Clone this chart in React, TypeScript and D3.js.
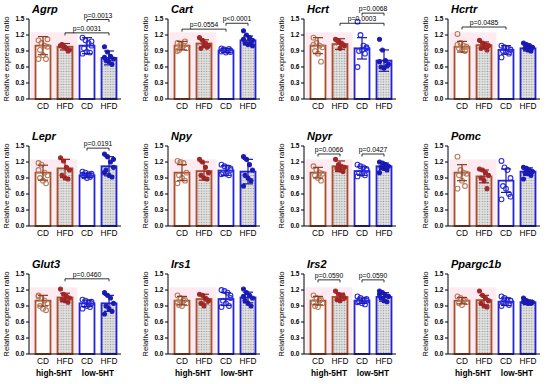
import React from "react";
import * as d3 from "d3";

const genes = ["Agrp", "Cart", "Hcrt", "Hcrtr", "Lepr", "Npy", "Npyr", "Pomc", "Glut3", "Irs1", "Irs2", "Ppargc1b"];
const groups = ["CD", "HFD", "CD", "HFD"];
const strains = ["high-5HT", "low-5HT"];
const yTicks = [0, 0.3, 0.6, 0.9, 1.2, 1.5];

const means = [
  [1.0, 0.98, 1.0, 0.77],
  [1.0, 1.04, 0.91, 1.1],
  [1.0, 1.03, 0.95, 0.72],
  [0.98, 1.01, 0.92, 0.95],
  [1.0, 1.08, 0.95, 1.12],
  [1.0, 1.03, 1.04, 1.02],
  [1.0, 1.12, 1.03, 1.12],
  [1.0, 0.93, 0.85, 1.02],
  [1.0, 1.06, 0.95, 0.95],
  [1.0, 1.03, 1.03, 1.06],
  [1.0, 1.07, 1.0, 1.07],
  [1.0, 1.01, 0.98, 0.97],
];

const sds = [
  [0.17, 0.06, 0.15, 0.13],
  [0.08, 0.07, 0.04, 0.08],
  [0.15, 0.1, 0.2, 0.2],
  [0.1, 0.06, 0.08, 0.05],
  [0.14, 0.17, 0.04, 0.18],
  [0.15, 0.17, 0.09, 0.23],
  [0.1, 0.1, 0.08, 0.06],
  [0.15, 0.12, 0.22, 0.07],
  [0.1, 0.08, 0.06, 0.15],
  [0.08, 0.09, 0.12, 0.1],
  [0.08, 0.07, 0.05, 0.08],
  [0.06, 0.09, 0.07, 0.04],
];

const points = [
  [[1.1, 1.05, 1.0, 0.98, 0.92, 0.82, 0.75, 0.75, 1.12], [1.0, 0.98, 0.95, 0.92, 1.02, 0.97, 0.9], [1.15, 1.1, 1.05, 1.0, 0.95, 0.88, 0.87, 0.85, 1.08], [0.98, 0.88, 0.8, 0.75, 0.72, 0.7, 0.65, 0.78]],
  [[1.05, 1.02, 1.0, 0.95, 0.92, 0.97, 1.08, 0.9], [1.15, 1.1, 1.05, 1.0, 0.95, 1.02, 0.97], [0.95, 0.93, 0.9, 0.88, 0.92, 0.87, 0.94, 0.89, 0.91], [1.28, 1.2, 1.15, 1.1, 1.05, 1.02, 1.08, 1.12, 1.0]],
  [[1.15, 1.05, 1.0, 0.97, 0.9, 0.85, 0.7, 1.02], [1.12, 1.08, 1.05, 1.0, 1.1, 0.95, 1.02], [1.45, 1.2, 1.0, 0.95, 0.9, 0.92, 0.85, 0.6, 0.97], [1.12, 0.92, 0.72, 0.65, 0.6, 0.58, 0.62, 0.7]],
  [[1.22, 1.05, 1.0, 0.98, 0.95, 0.92, 0.9, 1.02], [1.1, 1.05, 1.02, 1.0, 0.95, 0.97, 0.92], [1.0, 0.97, 0.95, 0.92, 0.9, 0.88, 0.85, 0.78, 0.93], [1.05, 1.02, 1.0, 0.97, 0.95, 0.92, 0.9]],
  [[1.18, 1.15, 1.0, 0.95, 0.9, 0.85, 0.8, 1.05], [1.28, 1.22, 1.1, 1.05, 0.95, 0.9, 0.88], [1.02, 1.0, 0.97, 0.95, 0.93, 0.9, 0.92, 0.96, 0.98], [1.35, 1.3, 1.2, 1.1, 1.05, 0.95, 0.92, 1.0, 1.25]],
  [[1.22, 1.2, 1.18, 1.0, 0.95, 0.9, 0.85, 0.8], [1.25, 1.2, 1.1, 1.0, 0.95, 0.9, 0.88], [1.15, 1.12, 1.1, 1.05, 1.0, 0.98, 0.95, 0.97, 1.08], [1.3, 1.25, 1.15, 1.05, 0.95, 0.9, 0.85, 0.75]],
  [[1.12, 1.05, 1.0, 0.98, 0.95, 0.9, 0.85], [1.25, 1.15, 1.12, 1.1, 1.08, 1.05, 1.02], [1.15, 1.12, 1.1, 1.05, 1.0, 0.98, 0.95, 0.93, 1.07], [1.2, 1.18, 1.15, 1.12, 1.1, 1.08, 1.05, 1.0]],
  [[1.3, 1.05, 1.0, 0.98, 0.95, 0.85, 0.75, 0.7], [1.07, 1.05, 1.0, 0.95, 0.9, 0.85, 0.7], [1.22, 1.1, 1.05, 0.9, 0.75, 0.7, 0.6, 0.5, 0.55], [1.1, 1.08, 1.05, 1.02, 1.0, 0.98, 0.95, 0.88]],
  [[1.1, 1.05, 1.0, 0.95, 0.9, 0.85, 0.82, 1.08], [1.22, 1.12, 1.08, 1.05, 1.02, 1.0, 0.97], [1.02, 1.0, 0.97, 0.95, 0.92, 0.9, 0.88, 0.85, 0.98], [1.15, 1.1, 1.05, 0.95, 0.9, 0.85, 0.8, 0.75]],
  [[1.1, 1.05, 1.0, 0.95, 0.92, 0.9, 1.02, 0.97], [1.12, 1.1, 1.05, 1.0, 0.95, 0.9, 1.02], [1.2, 1.18, 1.15, 1.05, 1.0, 0.95, 0.9, 0.88, 1.1], [1.22, 1.15, 1.1, 1.05, 1.0, 0.95, 0.9, 1.08]],
  [[1.1, 1.05, 1.0, 0.95, 0.9, 0.88, 1.02, 0.97], [1.18, 1.12, 1.08, 1.05, 1.02, 1.0, 1.1], [1.08, 1.05, 1.02, 1.0, 0.98, 0.95, 0.93, 0.97, 1.03], [1.18, 1.15, 1.1, 1.08, 1.05, 1.0, 0.98, 1.12]],
  [[1.08, 1.05, 1.0, 0.97, 0.95, 0.92, 1.02], [1.18, 1.1, 1.05, 1.0, 0.95, 0.9, 0.88], [1.08, 1.05, 1.02, 1.0, 0.97, 0.95, 0.92, 0.9, 1.0], [1.05, 1.0, 0.98, 0.97, 0.96, 0.95, 0.95, 0.98]],
];

// brackets: [fromBar, toBar, yValue, label]
const brackets: [number, number, number, string][][] = [
  [[1, 3, 1.24, "p=0.0031"], [2, 3, 1.49, "p=0.0013"]],
  [[0, 2, 1.31, "p=0.0554"], [2, 3, 1.42, "p<0.0001"]],
  [[1, 3, 1.42, "p=0.0003"], [2, 3, 1.61, "p=0.0068"]],
  [[0, 2, 1.35, "p=0.0485"]],
  [[2, 3, 1.46, "p=0.0191"]],
  [],
  [[0, 1, 1.35, "p=0.0066"], [2, 3, 1.35, "p=0.0427"]],
  [],
  [[1, 3, 1.41, "p=0.0460"]],
  [],
  [[0, 1, 1.39, "p=0.0590"], [2, 3, 1.39, "p=0.0590"]],
  [],
];

// layout
const colAxisX = [29, 168, 304, 448];
const rowY0 = [99, 226, 354];
const rowY15 = [19, 146, 274];
const jitter = [-4.5, -1.5, 1.5, 4.5, -3, 0, 3, -4.5, 4.5];

const barStroke = ["#a8502c", "#a8502c", "#2323d8", "#2323d8"];
const errColor = ["#8a3a20", "#a02020", "#1a1aa0", "#1a1aa0"];
const ptStroke = ["#b87a5a", "#a02a2a", "#2a2ae0", "#1a1ab8"];
const ptFill = ["none", "#a02a2a", "none", "#1a1ab8"];
const FONT = "Liberation Sans, Arial, sans-serif";

function Panel({ i }: { i: number }) {
  const col = i % 4;
  const row = Math.floor(i / 4);
  const ax = colAxisX[col];
  const y = d3.scaleLinear().domain([0, 1.5]).range([rowY0[row], rowY15[row]]);
  const x = d3
    .scaleBand<number>()
    .domain([0, 1, 2, 3])
    .range([ax + 3, ax + 91])
    .paddingInner(0.32)
    .paddingOuter(0.16);
  const bw = x.bandwidth();
  const cx = (k: number) => (x(k) as number) + bw / 2;
  const y0 = rowY0[row];
  return (
    <g>
      <rect
        x={(x(0) as number) - 5}
        y={y(1.25)}
        width={(x(1) as number) + bw + 5 - ((x(0) as number) - 5)}
        height={y0 - y(1.25)}
        fill="#fce6ee"
        opacity={0.8}
      />
      <text x={ax + 3} y={rowY15[row] - 6} fontFamily={FONT} fontWeight="bold" fontStyle="italic" fontSize={11}>
        {genes[i]}
      </text>
      <text
        transform={`translate(${ax - 20},${(y(0) + y(1.5)) / 2}) rotate(-90)`}
        textAnchor="middle"
        fontFamily={FONT}
        fontSize={7.8}
      >
        Relative expression ratio
      </text>
      {means[i].map((m, k) => (
        <rect
          key={"b" + k}
          x={x(k)}
          y={y(m)}
          width={bw}
          height={y0 - y(m)}
          fill={k % 2 === 1 ? "url(#dots)" : "#ffffff"}
          stroke={barStroke[k]}
          strokeWidth={1.8}
        />
      ))}
      <line x1={ax} x2={ax + 92} y1={y0} y2={y0} stroke="#000" strokeWidth={1} />
      <line x1={ax} x2={ax} y1={y(0)} y2={y(1.5)} stroke="#000" strokeWidth={1} />
      {yTicks.map((t) => (
        <g key={"t" + t}>
          <line x1={ax - 3} x2={ax} y1={y(t)} y2={y(t)} stroke="#000" strokeWidth={1} />
          <text x={ax - 4.5} y={y(t) + 2.3} textAnchor="end" fontFamily={FONT} fontWeight="bold" fontSize={6.5}>
            {t.toFixed(1)}
          </text>
        </g>
      ))}
      {points[i].map((arr, k) =>
        arr.map((v, j) => (
          <circle
            key={"p" + k + "_" + j}
            cx={cx(k) + jitter[j % jitter.length]}
            cy={y(v)}
            r={k % 2 === 0 ? 2.4 : 2}
            fill={ptFill[k]}
            stroke={ptStroke[k]}
            strokeWidth={1.1}
          />
        ))
      )}
      {means[i].map((m, k) => {
        const s = sds[i][k];
        return (
          <g key={"e" + k} stroke={errColor[k]} strokeWidth={1.2}>
            <line x1={cx(k)} x2={cx(k)} y1={y(m - s)} y2={y(m + s)} />
            <line x1={cx(k) - 5} x2={cx(k) + 5} y1={y(m + s)} y2={y(m + s)} />
            <line x1={cx(k) - 5} x2={cx(k) + 5} y1={y(m - s)} y2={y(m - s)} />
          </g>
        );
      })}
      {brackets[i].map(([a, b, v, lab], k) => {
        const yy = y(v);
        return (
          <g key={"br" + k}>
            <path
              d={`M${cx(a)},${yy + 2.5}V${yy}H${cx(b)}V${yy + 2.5}`}
              fill="none"
              stroke="#000"
              strokeWidth={0.8}
            />
            <text x={(cx(a) + cx(b)) / 2} y={yy - 2} textAnchor="middle" fontFamily={FONT} fontSize={6.8}>
              {lab}
            </text>
          </g>
        );
      })}
      {groups.map((g, k) => (
        <text key={"x" + k} x={cx(k)} y={y0 + 10} textAnchor="middle" fontFamily={FONT} fontSize={8.3}>
          {g}
        </text>
      ))}
      {row === 2 &&
        strains.map((s, k) => (
          <text
            key={"s" + k}
            x={(cx(2 * k) + cx(2 * k + 1)) / 2}
            y={y0 + 22}
            textAnchor="middle"
            fontFamily={FONT}
            fontWeight="bold"
            fontSize={8.3}
          >
            {s}
          </text>
        ))}
    </g>
  );
}

export default function App() {
  return (
    <svg
      width={550}
      height={384}
      viewBox="0 0 550 384"
      style={{ position: "absolute", left: 0, top: 0, background: "#fff" }}
    >
      <defs>
        <pattern id="dots" width={2.6} height={2.6} patternUnits="userSpaceOnUse">
          <rect width={2.6} height={2.6} fill="#e2e2e2" />
          <circle cx={1.3} cy={1.3} r={0.7} fill="#999" />
        </pattern>
      </defs>
      <rect width={550} height={384} fill="#fff" />
      {genes.map((g, i) => (
        <Panel key={g} i={i} />
      ))}
    </svg>
  );
}
